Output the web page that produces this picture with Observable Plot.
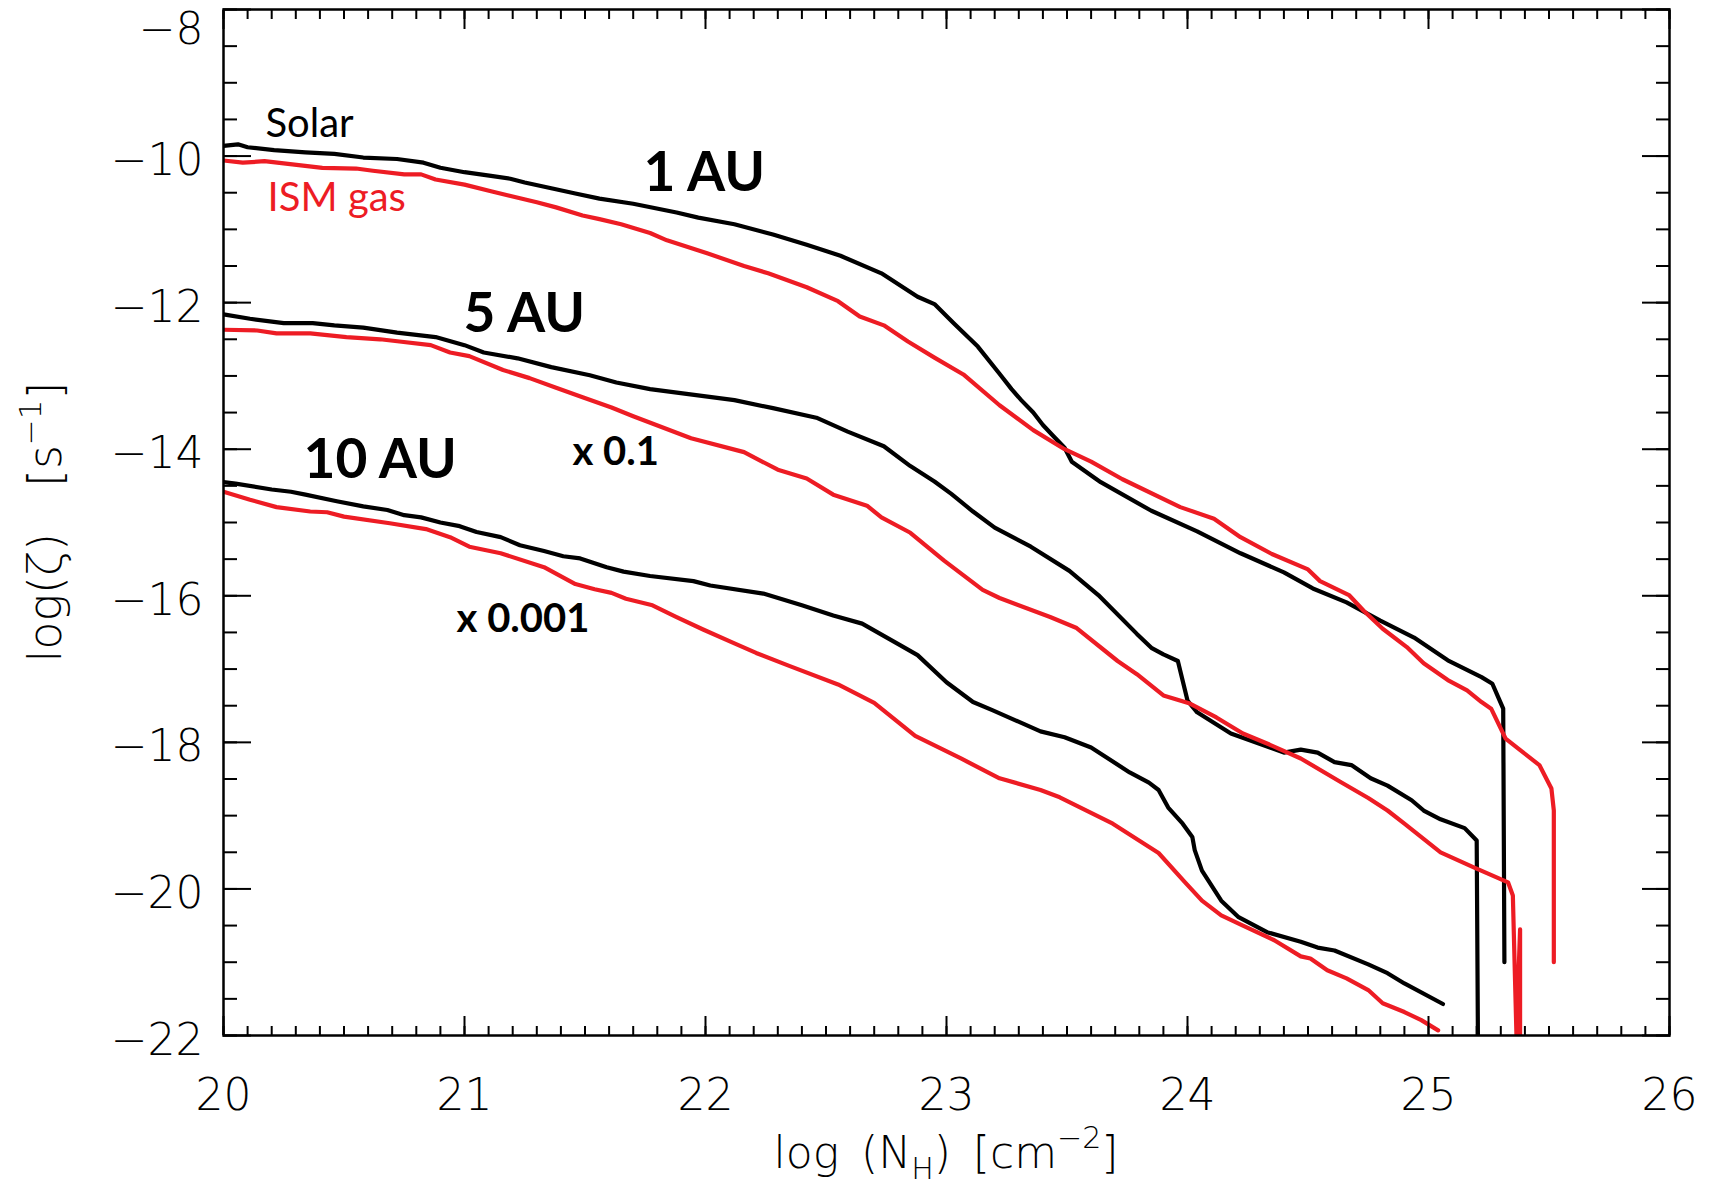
<!DOCTYPE html>
<html><head><meta charset="utf-8">
<script src="https://cdn.jsdelivr.net/npm/d3@7"></script>
<script src="https://cdn.jsdelivr.net/npm/@observablehq/plot@0.6"></script>
<style>
html,body{margin:0;padding:0;background:#fff;}
</style></head><body><div id="chart"></div>
<script>
// ---------------- data ----------------
const xMajorTicks = [20, 21, 22, 23, 24, 25, 26];
const yMajorTicks = [-10, -12, -14, -16, -18, -20, -22];
const yTopTick = [-8];
const xMinorTicks = d3.range(200, 261).map(d => d / 10);
const yMinorTicks = d3.range(-44, -15).map(d => d / 2);

const curveLabels = ["Solar", "ISM gas"];
const distanceLabels = ["1 AU", "5 AU", "10 AU"];
const factorLabels = ["x 0.1", "x 0.001"];

// log(N_H), log(zeta) pairs
const solar1AU = [[20.00,-9.86],[20.06,-9.84],[20.10,-9.88],[20.21,-9.92],[20.34,-9.95],[20.46,-9.97],[20.58,-10.02],[20.72,-10.04],[20.83,-10.09],[20.90,-10.16],[21.00,-10.22],[21.11,-10.27],[21.19,-10.31],[21.25,-10.36],[21.36,-10.44],[21.46,-10.51],[21.56,-10.58],[21.70,-10.65],[21.88,-10.77],[21.97,-10.84],[22.12,-10.93],[22.28,-11.07],[22.42,-11.21],[22.56,-11.36],[22.73,-11.60],[22.88,-11.92],[22.95,-12.02],[23.03,-12.28],[23.13,-12.60],[23.22,-12.97],[23.27,-13.18],[23.31,-13.33],[23.36,-13.50],[23.40,-13.67],[23.44,-13.81],[23.49,-13.98],[23.52,-14.17],[23.64,-14.45],[23.85,-14.84],[24.04,-15.12],[24.22,-15.42],[24.40,-15.68],[24.52,-15.90],[24.66,-16.09],[24.80,-16.34],[24.94,-16.57],[25.08,-16.88],[25.22,-17.11],[25.265,-17.20],[25.29,-17.39],[25.31,-17.54],[25.315,-21.0]];
const ism1AU = [[20.00,-10.06],[20.08,-10.09],[20.17,-10.07],[20.25,-10.10],[20.41,-10.16],[20.55,-10.17],[20.62,-10.20],[20.75,-10.25],[20.82,-10.25],[20.88,-10.32],[21.00,-10.39],[21.11,-10.48],[21.30,-10.63],[21.38,-10.70],[21.49,-10.81],[21.56,-10.86],[21.65,-10.93],[21.77,-11.05],[21.84,-11.15],[22.01,-11.33],[22.16,-11.50],[22.26,-11.60],[22.42,-11.79],[22.55,-11.98],[22.64,-12.19],[22.74,-12.31],[22.84,-12.53],[22.95,-12.75],[23.07,-12.98],[23.22,-13.40],[23.36,-13.74],[23.49,-14.00],[23.60,-14.17],[23.73,-14.41],[23.97,-14.79],[24.11,-14.95],[24.22,-15.20],[24.35,-15.43],[24.50,-15.64],[24.55,-15.80],[24.67,-15.99],[24.73,-16.20],[24.81,-16.45],[24.91,-16.70],[24.98,-16.92],[25.08,-17.15],[25.16,-17.29],[25.22,-17.45],[25.26,-17.54],[25.32,-17.95],[25.37,-18.08],[25.46,-18.31],[25.51,-18.63],[25.52,-18.93],[25.52,-21.0]];
const solar5AU = [[20.00,-12.16],[20.11,-12.22],[20.25,-12.28],[20.37,-12.28],[20.46,-12.31],[20.58,-12.34],[20.72,-12.41],[20.88,-12.47],[21.00,-12.58],[21.08,-12.68],[21.22,-12.76],[21.36,-12.88],[21.52,-12.99],[21.63,-13.09],[21.77,-13.18],[22.12,-13.33],[22.28,-13.44],[22.46,-13.57],[22.59,-13.76],[22.74,-13.96],[22.85,-14.23],[22.95,-14.44],[23.02,-14.61],[23.11,-14.85],[23.20,-15.07],[23.35,-15.33],[23.51,-15.66],[23.63,-15.99],[23.79,-16.52],[23.85,-16.71],[23.90,-16.80],[23.96,-16.89],[24.00,-17.43],[24.04,-17.59],[24.18,-17.88],[24.40,-18.14],[24.47,-18.10],[24.54,-18.14],[24.61,-18.27],[24.68,-18.31],[24.76,-18.49],[24.83,-18.59],[24.93,-18.79],[24.98,-18.93],[25.05,-19.05],[25.15,-19.17],[25.20,-19.34],[25.205,-22.0]];
const ism5AU = [[20.00,-12.37],[20.14,-12.38],[20.22,-12.42],[20.36,-12.42],[20.51,-12.47],[20.65,-12.50],[20.73,-12.53],[20.86,-12.58],[20.94,-12.68],[21.02,-12.73],[21.16,-12.92],[21.27,-13.03],[21.38,-13.16],[21.49,-13.29],[21.61,-13.43],[21.70,-13.55],[21.94,-13.85],[22.16,-14.04],[22.30,-14.28],[22.42,-14.40],[22.53,-14.62],[22.67,-14.77],[22.73,-14.93],[22.85,-15.14],[22.99,-15.52],[23.15,-15.92],[23.22,-16.03],[23.43,-16.29],[23.54,-16.44],[23.71,-16.89],[23.79,-17.07],[23.90,-17.36],[24.01,-17.47],[24.12,-17.66],[24.23,-17.88],[24.34,-18.03],[24.47,-18.22],[24.63,-18.53],[24.75,-18.76],[24.83,-18.93],[24.90,-19.11],[25.05,-19.50],[25.19,-19.71],[25.33,-19.91],[25.35,-20.09],[25.365,-22.0],[25.38,-20.55],[25.38,-22.0]];
const solar10AU = [[20.00,-14.45],[20.05,-14.47],[20.20,-14.55],[20.28,-14.58],[20.34,-14.62],[20.47,-14.71],[20.58,-14.78],[20.68,-14.83],[20.75,-14.90],[20.82,-14.93],[20.90,-15.00],[20.98,-15.05],[21.05,-15.13],[21.15,-15.20],[21.23,-15.31],[21.33,-15.39],[21.41,-15.46],[21.48,-15.49],[21.59,-15.61],[21.66,-15.67],[21.77,-15.73],[21.95,-15.80],[22.02,-15.86],[22.24,-15.97],[22.40,-16.13],[22.53,-16.27],[22.65,-16.38],[22.80,-16.66],[22.88,-16.81],[23.00,-17.18],[23.11,-17.45],[23.19,-17.56],[23.39,-17.85],[23.49,-17.93],[23.60,-18.07],[23.76,-18.41],[23.84,-18.55],[23.88,-18.65],[23.92,-18.89],[23.98,-19.11],[24.02,-19.29],[24.03,-19.47],[24.06,-19.75],[24.14,-20.16],[24.21,-20.38],[24.33,-20.59],[24.47,-20.72],[24.54,-20.80],[24.61,-20.84],[24.75,-21.03],[24.83,-21.15],[24.90,-21.29],[25.06,-21.57]];
const ism10AU = [[20.00,-14.58],[20.11,-14.69],[20.22,-14.79],[20.36,-14.85],[20.43,-14.86],[20.50,-14.92],[20.69,-15.01],[20.84,-15.09],[20.94,-15.20],[21.02,-15.33],[21.15,-15.42],[21.33,-15.61],[21.46,-15.84],[21.54,-15.91],[21.61,-15.96],[21.67,-16.04],[21.78,-16.13],[21.88,-16.29],[21.99,-16.46],[22.12,-16.65],[22.21,-16.78],[22.35,-16.96],[22.55,-17.21],[22.70,-17.46],[22.87,-17.91],[23.06,-18.22],[23.22,-18.49],[23.39,-18.65],[23.47,-18.75],[23.69,-19.11],[23.88,-19.51],[23.99,-19.91],[24.06,-20.16],[24.14,-20.36],[24.23,-20.50],[24.36,-20.70],[24.47,-20.92],[24.51,-20.95],[24.58,-21.11],[24.66,-21.22],[24.75,-21.38],[24.81,-21.56],[24.90,-21.68],[24.97,-21.79],[25.04,-21.93]];

// ---------------- chart ----------------
const BLACK = "#000000", RED = "#ed1c24";
const series = [
  {pts: solar1AU, color: BLACK}, {pts: ism1AU, color: RED},
  {pts: solar5AU, color: BLACK}, {pts: ism5AU, color: RED},
  {pts: solar10AU, color: BLACK}, {pts: ism10AU, color: RED}
];
const lineMarks = series.map(s => Plot.line(s.pts, {x: d => d[0], y: d => d[1], stroke: s.color, strokeWidth: 4.2, clip: true, strokeLinejoin: "round"}));

const allY = [...yTopTick, ...yMajorTicks];
const tick = {fill: "none", label: null, stroke: "black", strokeWidth: 2};
const fmt = d3.format("d");
const annFont = "Lato, 'Open Sans', sans-serif";
const txt = (label, x, y, o) => Plot.text([label], {x, y, text: d => d, textAnchor: "start", lineAnchor: "bottom", fontFamily: annFont, fontWeight: "normal", ...o});

const plot = Plot.plot({
  width: 1716, height: 1186,
  marginLeft: 223, marginRight: 47, marginTop: 9, marginBottom: 151,
  x: {domain: [20, 26], label: null},
  y: {domain: [-22, -8], label: null},
  style: {fontFamily: "'DejaVu Sans'", fontSize: "44px", fontWeight: 200, background: "white", color: "black"},
  marks: [
    ...lineMarks,
    Plot.frame({stroke: "black", strokeWidth: 2.5}),
    Plot.axisX(xMinorTicks, {anchor: "bottom", tickSize: 9, dy: -9, ...tick}),
    Plot.axisX(xMajorTicks, {anchor: "bottom", tickSize: 19, dy: -19, ...tick}),
    Plot.axisX(xMinorTicks, {anchor: "top", tickSize: 9, dy: 9, ...tick}),
    Plot.axisX(xMajorTicks, {anchor: "top", tickSize: 19, dy: 19, ...tick}),
    Plot.axisY(yMinorTicks, {anchor: "left", tickSize: 14, dx: 14, ...tick}),
    Plot.axisY(allY, {anchor: "left", tickSize: 28, dx: 28, ...tick}),
    Plot.axisY(yMinorTicks, {anchor: "right", tickSize: 14, dx: -14, ...tick}),
    Plot.axisY(allY, {anchor: "right", tickSize: 28, dx: -28, ...tick}),
    Plot.axisX(xMajorTicks, {anchor: "bottom", tickSize: 0, tickPadding: 43, label: null, fill: "black", fontSize: 44, tickFormat: fmt}),
    Plot.axisY(yMajorTicks, {anchor: "left", tickSize: 0, tickPadding: 20, dy: 5, label: null, fill: "black", fontSize: 44, tickFormat: fmt}),
    Plot.axisY(yTopTick, {anchor: "left", tickSize: 0, tickPadding: 20, dy: 20, label: null, fill: "black", fontSize: 44, tickFormat: fmt}),
    txt(curveLabels[0], 20.174, -9.746, {fill: BLACK, fontSize: 40}),
    txt(curveLabels[1], 20.183, -10.756, {fill: RED, fontSize: 40}),
    txt(distanceLabels[0], 21.743, -10.483, {fill: BLACK, fontSize: 55, fontWeight: "bold"}),
    txt(distanceLabels[1], 20.996, -12.407, {fill: BLACK, fontSize: 55, fontWeight: "bold"}),
    txt(distanceLabels[2], 20.332, -14.398, {fill: BLACK, fontSize: 55, fontWeight: "bold"}),
    txt(factorLabels[0], 21.448, -14.221, {fill: BLACK, fontSize: 40, fontWeight: "bold"}),
    txt(factorLabels[1], 20.967, -16.50, {fill: BLACK, fontSize: 40, fontWeight: "bold"})
  ]
});

// axis titles with sub/superscripts
const svg = d3.select(plot);
const xs = plot.scale("x").range, ys = plot.scale("y").range;
const xMid = (xs[0] + xs[1]) / 2, yMid = (ys[0] + ys[1]) / 2;
const xt = svg.append("text").attr("x", xMid).attr("y", 1168).attr("text-anchor", "middle")
  .attr("font-family", "'DejaVu Sans'").attr("font-weight", 200).attr("font-size", 44).attr("fill", "black");
xt.append("tspan").text("log\u2002(N");
xt.append("tspan").attr("font-size", 30).attr("dy", 11).text("H");
xt.append("tspan").attr("dy", -11).text(")\u2002[cm");
xt.append("tspan").attr("font-size", 30).attr("dy", -20).text("\u22122");
xt.append("tspan").attr("dy", 20).text("]");

const yt = svg.append("text").attr("transform", `translate(61,${yMid}) rotate(-90)`).attr("text-anchor", "middle")
  .attr("font-family", "'DejaVu Sans'").attr("font-weight", 200).attr("font-size", 46).attr("fill", "black");
yt.append("tspan").text("log(\u03B6)\u2002\u2002[s");
yt.append("tspan").attr("font-size", 31).attr("dy", -20).text("\u22121");
yt.append("tspan").attr("dy", 20).text("]");

document.getElementById("chart").appendChild(plot);
</script></body></html>
